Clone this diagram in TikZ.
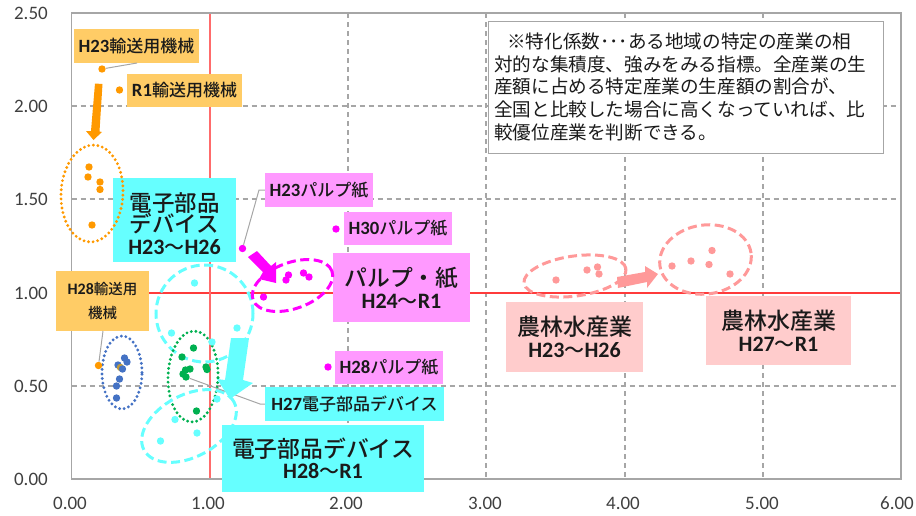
\documentclass[tikz,border=0pt]{standalone}
\usepackage{fontspec}
\setmainfont{Carlito}[BoldFeatures={Scale=1.1}]
\newfontfamily\cjk{Noto Sans CJK JP Medium}
\newfontfamily\cjkn{Noto Sans CJK JP}
\usetikzlibrary{shapes.geometric}
\newcommand{\fsz}[1]{\fontsize{#1}{#1}\selectfont}
\newcommand{\la}[1]{{\bfseries #1}}
\newcommand{\jp}[1]{{\cjk #1}}
\definecolor{cOr}{HTML}{FF9900}
\definecolor{cOrB}{HTML}{FFCC66}
\definecolor{cBl}{HTML}{4472C4}
\definecolor{cBm}{HTML}{C09A3A}
\definecolor{cGr}{HTML}{00B050}
\definecolor{cCy}{HTML}{66FFFF}
\definecolor{cMa}{HTML}{FF00FF}
\definecolor{cMaB}{HTML}{FF99FF}
\definecolor{cPk}{HTML}{FF9999}
\definecolor{cPkB}{HTML}{FFCCCC}
\definecolor{cGrid}{HTML}{A6A6A6}
\definecolor{cRedH}{HTML}{FF3B3B}
\definecolor{cRedV}{HTML}{FF6B6B}
\definecolor{cTick}{HTML}{404040}
\definecolor{cTxt}{HTML}{1A1A1A}
\definecolor{cLead}{HTML}{A6A6A6}
\tikzset{
  x=1pt,y=-1pt,
  gridl/.style={draw=cGrid,line width=1.2pt,dash pattern=on 5pt off 4pt},
  axisl/.style={draw=cGrid,line width=1.3pt},
  tick/.style={inner sep=0,font=\fsz{19},text=cTick},
  lab/.style={rectangle,inner sep=0,align=center,text=cTxt,font=\fsz{17}},
  dot/.style={circle,inner sep=0,minimum size=7.4pt,fill=#1},
  ring/.style={ellipse,inner sep=0,draw=#1,fill=none},
  dashring/.style={ring=#1,line width=3pt,dash pattern=on 9pt off 4.5pt},
  dotring/.style={ring=#1,line width=3.2pt,line cap=round,dash pattern=on 0pt off 4.6pt},
  leader/.style={draw=cLead,line width=1pt},
}
\begin{document}
\begin{tikzpicture}
\useasboundingbox (0,0) rectangle (916,515);
% grid
\foreach \yy in {106,199,386} \draw[gridl] (71.5,\yy) -- (901,\yy);
\foreach \xx in {348,486,625,763} \draw[gridl] (\xx,13) -- (\xx,479);
\draw[draw=cRedH,line width=1.3pt] (71.5,293) -- (901,293);
\draw[draw=cRedV,line width=1.6pt] (209.8,13) -- (209.8,479);
\draw[axisl] (71.5,479) -- (71.5,13) -- (901,13) -- (901,479) -- cycle;
% tick labels
\node[tick,anchor=east] (y0) at (48,479) {0.00};
\node[tick,anchor=east] (y1) at (48,386) {0.50};
\node[tick,anchor=east] (y2) at (48,293) {1.00};
\node[tick,anchor=east] (y3) at (48,199) {1.50};
\node[tick,anchor=east] (y4) at (48,106) {2.00};
\node[tick,anchor=east] (y5) at (48,13) {2.50};
\node[tick] (x0) at (70,503.5) {0.00};
\node[tick] (x1) at (208,503.5) {1.00};
\node[tick] (x2) at (346,503.5) {2.00};
\node[tick] (x3) at (485,503.5) {3.00};
\node[tick] (x4) at (623,503.5) {4.00};
\node[tick] (x5) at (762,503.5) {5.00};
\node[tick] (x6) at (897,503.5) {6.00};
% note
\node[rectangle,draw=cGrid,fill=white,line width=1pt,minimum width=395pt,minimum height=132pt,inner sep=0] (note) at (685.5,87) {};
\node[anchor=north west,inner sep=0,align=left,text=cTxt,font=\fsz{18.6}\cjkn] (notetxt) at (494,32.5)
 {\hspace*{13pt}※特化係数･･･ある地域の特定の産業の相\\[4.2pt]対的な集積度、強みをみる指標。全産業の生\\[4.2pt]産額に占める特定産業の生産額の割合が、\\[4.2pt]全国と比較した場合に高くなっていれば、比\\[4.2pt]較優位産業を判断できる。};
% labels
\node[lab,fill=cOrB,minimum width=125pt,minimum height=34pt] (lH23t) at (136.5,46) {\la{H23}\jp{輸送用機械}};
\node[lab,fill=cOrB,minimum width=115pt,minimum height=33pt] (lR1t) at (184.5,90.5) {\la{R1}\jp{輸送用機械}};
\node[lab,fill=cOrB,minimum width=93pt,minimum height=60pt,font=\fsz{14.5}] (lH28t) at (102.5,301) {\la{H28}\jp{輸送用}\\[9pt]\jp{機械}};
\node[lab,fill=cCy,minimum width=123pt,minimum height=84pt,font=\fsz{22.5}] (lE1) at (174.5,220) {\rule{0pt}{26pt}\jp{電子部品}\\[-1pt]\jp{デバイス}\\[-1pt]{\fsz{20}\la{H23}\jp{〜}\la{H26}}};
\node[lab,fill=cMaB,minimum width=108pt,minimum height=34pt] (lP23) at (319,190) {\la{H23}\jp{パルプ紙}};
\node[lab,fill=cMaB,minimum width=108pt,minimum height=33pt] (lP30) at (398,228.5) {\la{H30}\jp{パルプ紙}};
\node[lab,fill=cMaB,minimum width=137pt,minimum height=69pt,font=\fsz{22.8}] (lP) at (401.5,287.5) {\jp{パルプ・紙}\\[-1pt]{\fsz{20}\la{H24}\jp{〜}\la{R1}}};
\node[lab,fill=cMaB,minimum width=108pt,minimum height=33pt] (lP28) at (389,367.5) {\la{H28}\jp{パルプ紙}};
\node[lab,fill=cCy,minimum width=179pt,minimum height=34pt] (lE27) at (354.5,404) {\la{H27}\jp{電子部品デバイス}};
\node[lab,fill=cCy,minimum width=202pt,minimum height=67pt,font=\fsz{22.8}] (lE2) at (323,458.5) {\jp{電子部品デバイス}\\[-2pt]{\fsz{20}\la{H28}\jp{〜}\la{R1}}};
\node[lab,fill=cPkB,minimum width=137pt,minimum height=70pt,font=\fsz{23}] (lA1) at (574.5,337) {\jp{農林水産業}\\[-1pt]{\fsz{20}\la{H23}\jp{〜}\la{H26}}};
\node[lab,fill=cPkB,minimum width=145pt,minimum height=69pt,font=\fsz{23}] (lA2) at (778.5,330.5) {\jp{農林水産業}\\[-1pt]{\fsz{20}\la{H27}\jp{〜}\la{R1}}};
% rings
\node[dotring=cOr,minimum width=62pt,minimum height=97pt,rotate=-3] (rOr) at (92,193.5) {};
\node[dashring=cCy,minimum width=97pt,minimum height=97pt] (rC1) at (204.5,313.5) {};
\node[dotring=cBl,minimum width=40pt,minimum height=73pt] (rBl) at (122,372.5) {};
\node[dotring=cGr,minimum width=50pt,minimum height=91pt,rotate=-2] (rGr) at (193,376.5) {};
\node[dashring=cCy,minimum width=102pt,minimum height=62pt,rotate=28] (rC2) at (189,426) {};
\node[dashring=cMa,minimum width=84pt,minimum height=46pt,rotate=20] (rMa) at (292.5,285.5) {};
\node[dashring=cPk,minimum width=103pt,minimum height=40pt,rotate=8] (rP1) at (575,276) {};
\node[dashring=cPk,minimum width=92pt,minimum height=69pt,rotate=8] (rP2) at (705.5,259.5) {};
% dots
\node[dot=cOr] (pH23t) at (102,69) {};
\node[dot=cOr] (pR1t) at (119.5,90) {};
\node[dot=cOr] (pH28t) at (98.5,365.5) {};
\foreach \i/\a/\b in {a/89/167,b/88/177,c/100/182,d/100/189.5,e/92/225}
  \node[dot=cOr] (po\i) at (\a,\b) {};
\foreach \i/\a/\b in {a/124.5/358,b/127/362,c/118/365}
  \node[dot=cBl] (pb\i) at (\a,\b) {};
\node[dot=cBm] (pbm) at (120.5,367.5) {};
\foreach \i/\a/\b in {d/122.5/369,e/119.5/379,f/116.5/386,g/116.5/398}
  \node[dot=cBl] (pb\i) at (\a,\b) {};
\foreach \i/\a/\b in {a/194.5/283,b/171.5/333,c/237/328,d/212/342,e/217/399,f/175/419.5,g/197/433,h/160.5/441}
  \node[dot=cCy] (pc\i) at (\a,\b) {};
\foreach \i/\a/\b in {a/193.5/348,b/182/357,c/190/369,d/185.5/370,e/183/374,g/206/367,h/207/369.5,i/196.5/411}
  \node[dot=cGr] (pg\i) at (\a,\b) {};
\node[dot=cGr] (pE27) at (186,377) {};
\node[dot=cMa] (pP23) at (242.5,248.5) {};
\node[dot=cMa] (pP30) at (336,229) {};
\node[dot=cMa] (pP28) at (328,367) {};
\foreach \i/\a/\b in {a/263.5/297,b/288.5/275,c/286/280,d/303.5/273,e/309/277}
  \node[dot=cMa] (pm\i) at (\a,\b) {};
\foreach \i/\a/\b in {a/556/280,b/587/270,c/597.5/267,d/599/274,e/672/266,f/691/261,g/709/264.5,h/712/250.5,i/730/274}
  \node[dot=cPk] (pp\i) at (\a,\b) {};
% leaders
\draw[leader] (pH23t) -- (137,63);
\draw[leader] (pP23) -- (259,190) -- (lP23.west);
\draw[leader] (pH28t) -- (103,331);
\draw[leader] (pE27) -- (260,404) -- (lE27.west);
% block arrows
\fill[cOr] (95,83.5) -- (102.5,84) -- (99.5,131.5) -- (102,132) -- (93.5,140) -- (86,131) -- (91,131) -- cycle;
\fill[cCy] (231,338) -- (249,338) -- (243,380) -- (253,383) -- (230,399) -- (217,379) -- (225,380) -- cycle;
\fill[cMa] (248,257) -- (257,251) -- (271,266) -- (276,262) -- (276,283) -- (259,279) -- (263,272) -- cycle;
\fill[cPk] (617,277) -- (645,272) -- (645,266) -- (658,274) -- (647,288) -- (647,282) -- (618,288) -- cycle;
\end{tikzpicture}
\end{document}
